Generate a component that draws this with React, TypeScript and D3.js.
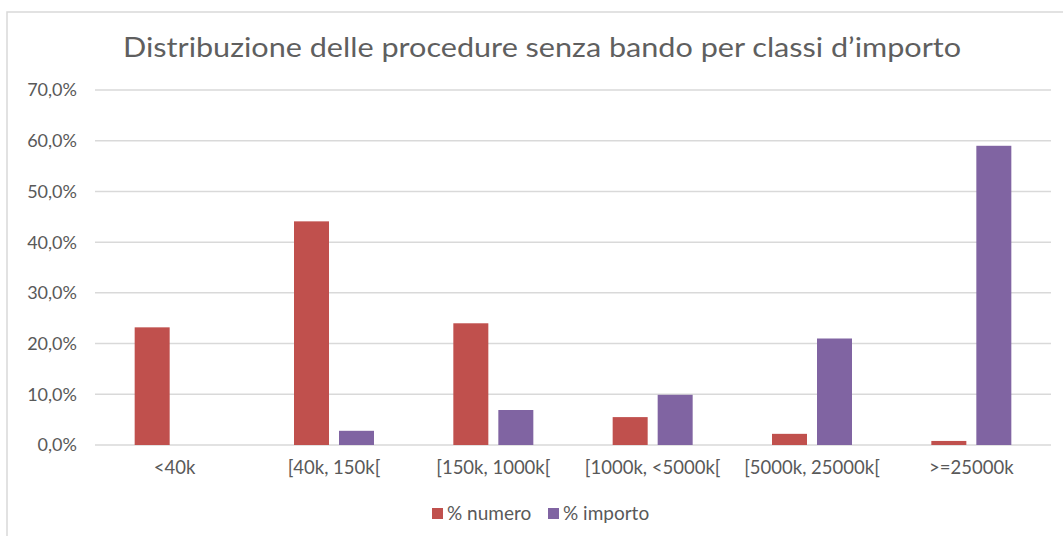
import React from "react";
import * as d3 from "d3";

const categories = ["<40k", "[40k, 150k[", "[150k, 1000k[", "[1000k, <5000k[", "[5000k, 25000k[", ">=25000k"];
const seriesNames = ["% numero", "% importo"];
const numero = [0.232, 0.441, 0.240, 0.055, 0.022, 0.008];
const importo = [0.0, 0.028, 0.069, 0.099, 0.210, 0.590];
const yTicks = [0, 0.1, 0.2, 0.3, 0.4, 0.5, 0.6, 0.7];
const colors = ["#C0504D", "#8064A2"];
const title = "Distribuzione delle procedure senza bando per classi d\u2019importo";

const W = 1063;
const H = 536;
const plot = { left: 95, right: 1051, top: 90, bottom: 445 };
const FONT = "Lato, 'Open Sans', sans-serif";
const TEXT = "#595959";

const locale = d3.formatLocale({ decimal: ",", thousands: ".", grouping: [3], currency: ["", "\u20ac"] });
const fmt = locale.format(".1%");

export default function App() {
  const x0 = d3.scaleBand<string>().domain(categories).range([plot.left, plot.right]).paddingInner(0).paddingOuter(0);
  const groupW = 80;
  const x1 = d3.scaleBand<string>().domain(seriesNames).range([0, groupW]).paddingInner(2 - groupW / 45).paddingOuter(0);
  const y = d3.scaleLinear().domain([0, 0.7]).range([plot.bottom, plot.top]);
  const seriesValues = [numero, importo];

  return (
    <svg width={W} height={H} style={{ position: "absolute", left: 0, top: 0, background: "#fff" }}>
      <rect x={0} y={0} width={W} height={H} fill="#fff" />
      <rect x={7} y={12} width={W + 20} height={H + 20} fill="#fff" stroke="#d9d9d9" strokeWidth={1.5} />
      <text x={542} y={57} textAnchor="middle" fontFamily={FONT} fontSize={26} fill="#5f5f5f" textLength={838} lengthAdjust="spacingAndGlyphs">
        {title}
      </text>
      {yTicks.map((t) => (
        <g key={t}>
          <line x1={plot.left} x2={plot.right} y1={y(t)} y2={y(t)} stroke="#d9d9d9" strokeWidth={1.5} />
          <text x={77} y={y(t)} dy="0.36em" textAnchor="end" fontFamily={FONT} fontSize={18} fill={TEXT}>
            {fmt(t)}
          </text>
        </g>
      ))}
      {categories.map((c, i) => (
        <g key={c} transform={`translate(${x0(c)! + (x0.bandwidth() - groupW) / 2},0)`}>
          {seriesNames.map((s, k) => {
            const v = seriesValues[k][i];
            return <rect key={s} x={x1(s)} y={y(v)} width={x1.bandwidth()} height={y(0) - y(v)} fill={colors[k]} />;
          })}
        </g>
      ))}
      {categories.map((c) => (
        <text key={c} x={x0(c)! + x0.bandwidth() / 2} y={467} dy="0.36em" textAnchor="middle" fontFamily={FONT} fontSize={18.5} fill={TEXT}>
          {c}
        </text>
      ))}
      {seriesNames.map((s, k) => {
        const lx = [432, 548][k];
        return (
          <g key={s}>
            <rect x={lx} y={508} width={11} height={11} fill={colors[k]} />
            <text x={lx + 15} y={513.5} dy="0.36em" fontFamily={FONT} fontSize={19} fill={TEXT}>
              {s}
            </text>
          </g>
        );
      })}
    </svg>
  );
}
